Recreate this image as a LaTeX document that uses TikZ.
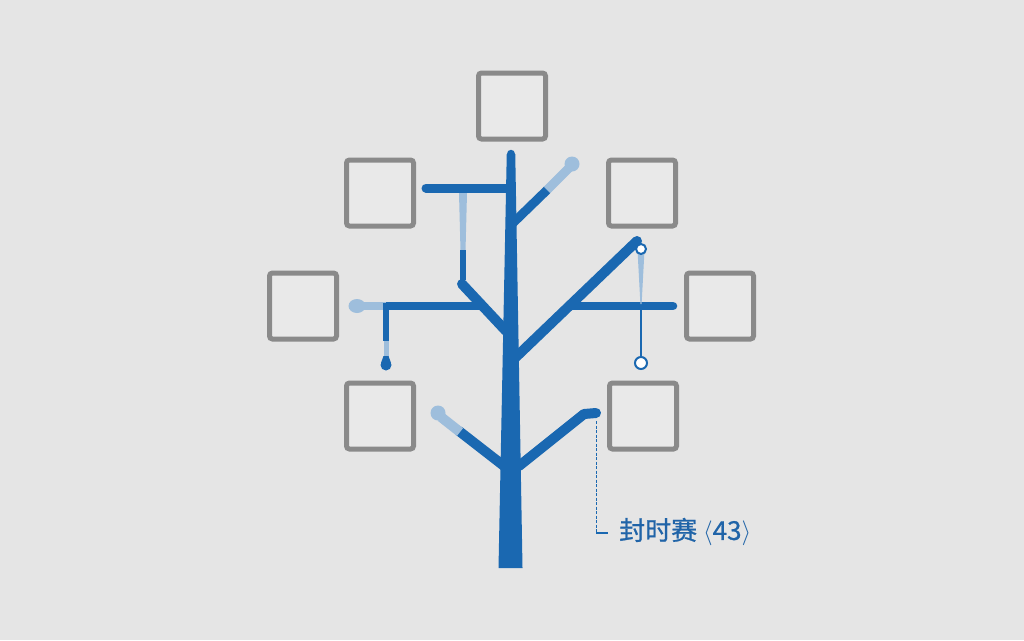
\documentclass[tikz,border=0pt]{standalone}
\usepackage{fontspec}
\newfontfamily\cjk[FakeBold=0.8]{Noto Sans CJK SC}
\definecolor{bgc}{RGB}{229,229,229}
\definecolor{boxin}{RGB}{233,233,233}
\definecolor{boxgray}{RGB}{138,138,138}
\definecolor{treeblue}{RGB}{26,104,177}
\definecolor{lightblue}{RGB}{158,190,220}
\definecolor{txtblue}{RGB}{32,100,168}
\tikzset{
  box/.style={draw=boxgray, fill=boxin, line width=5pt, rounded corners=3pt, minimum width=67pt, minimum height=66pt, inner sep=0pt},
  branch/.style={draw=treeblue, line width=9pt, line cap=round, line join=round},
  ring/.style={draw=treeblue, fill=white, line width=2pt},
}
\begin{document}
\begin{tikzpicture}[x=1pt,y=-1pt]
\fill[bgc] (0,0) rectangle (1024,640);
\useasboundingbox (0,0) rectangle (1024,640);
% boxes
\node[box] (btop) at (512,106) {};
\node[box] (blu) at (380,193) {};
\node[box] (bru) at (642,193) {};
\node[box] (blm) at (303,306) {};
\node[box] (brm) at (720,306) {};
\node[box] (bll) at (380,416) {};
\node[box] (brl) at (643,416) {};
% trunk
\draw[treeblue, line width=8.5pt, line cap=round] (511,154) -- (511,170);
\fill[treeblue] (506.75,154) -- (515.25,154) -- (522.5,568) -- (498.5,568) -- cycle;
% upper left
\draw[branch] (426,188) -- (510,188);
\fill[lightblue] (459,193) -- (467,193) -- (465.5,251) -- (460.5,251) -- cycle;
\draw[treeblue, line width=6pt] (463,250) -- (463,280);
\draw[branch, line width=10pt] (462,284) -- (506,331);
% middle left
\draw[treeblue, line width=8.5pt] (384,306) -- (484,306);
\draw[lightblue, line width=8.5pt] (358,306) -- (386,306);
\fill[lightblue] (357,306) ellipse[x radius=8.5, y radius=7];
\draw[treeblue, line width=6pt] (386,303) -- (386,341);
\draw[lightblue, line width=5pt] (386,341) -- (386,357);
\fill[treeblue] (383.5,356) -- (388.5,356) -- (391,363) -- (381,363) -- cycle;
\fill[treeblue] (386,365) circle[radius=5.5];
% upper right
\draw[branch] (513,223) -- (547,190);
\draw[lightblue, line width=9pt] (547,190) -- (569,168);
\fill[lightblue] (572,164) circle[radius=7.5];
% right long
\draw[branch, line width=10pt] (515,358) -- (637,241);
\draw[branch, line width=8.5pt] (569,306) -- (673,306);
\fill[lightblue] (637.5,250) -- (644.5,250) -- (641.6,304) -- (640.4,304) -- cycle;
\draw[treeblue, line width=2pt] (641,305) -- (641,357);
\node[circle, ring, minimum size=10pt, inner sep=0pt] (rtop) at (641,249) {};
\node[circle, ring, minimum size=12pt, inner sep=0pt] (rbot) at (641,363) {};
% lower left
\draw[branch, line width=10pt] (459,431) -- (504,466);
\draw[lightblue, line width=10pt] (441,417) -- (460,432);
\fill[lightblue] (438,413) circle[radius=7.5];
% lower right
\draw[branch, line width=10pt] (519,466) -- (584,414) -- (596,413);
\coordinate (tip) at (596,421);
% label
\node[anchor=west, inner sep=0pt, text=txtblue, font=\cjk\fontsize{26}{30}\selectfont] (lab) at (619,532) {封时赛 $\langle$43$\rangle$};
\coordinate (corner) at (596,533);
\draw[treeblue, line width=1pt, dash pattern=on 3pt off 1.5pt] (tip) -- (corner);
\draw[treeblue, line width=1.2pt] (corner) -- (608,533);
\end{tikzpicture}
\end{document}
